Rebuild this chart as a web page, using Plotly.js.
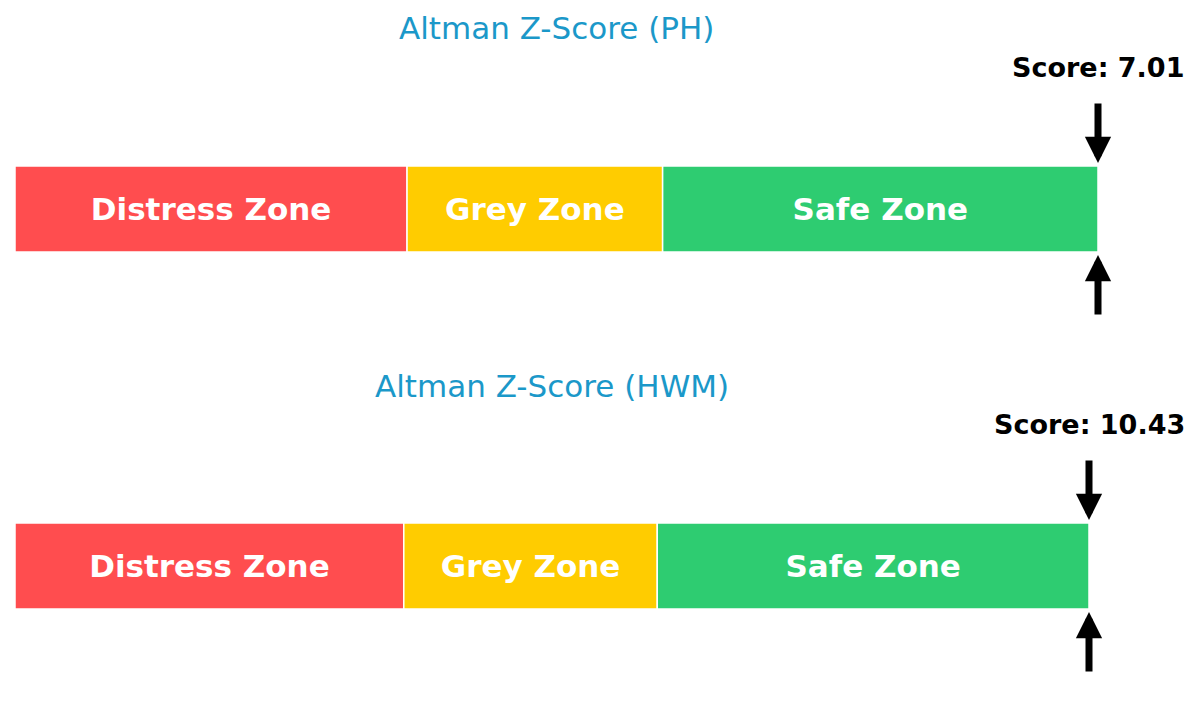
<!DOCTYPE html>
<html>
<head>
<meta charset="utf-8">
<script src="https://cdn.plot.ly/plotly-3.0.1.min.js"></script>
<style>
  html, body { margin: 0; padding: 0; background: #fff; }
  #chart { width: 1200px; height: 715px; }
</style>
</head>
<body>
<div id="chart"></div>
<script>
// zone boundaries (Altman Z-score), shared by both companies
const zoneNames = ['Distress Zone', 'Grey Zone', 'Safe Zone'];
const zoneStart = [0, 1.81, 2.99];
const zoneEnd = [1.81, 2.99, 5];
const zoneColors = ['#ff4d4f', '#ffcc00', '#2ecc71'];

const tickers = ['PH', 'HWM'];
const scores = [7.01, 10.43];

// panel placement (paper fractions)
const xDomains = [[0.0125, 0.915], [0.0125, 0.9075]];
const yDomains = [[0.5273, 0.8881], [0.02797, 0.3888]];
const titleY = [0.9608, 0.4601];

const FONT = 'DejaVu Sans, Verdana, sans-serif';
const xMax = zoneEnd[zoneEnd.length - 1];

const traces = [];
const annotations = [];
const layout = {
  width: 1200,
  height: 715,
  margin: { l: 0, r: 0, t: 0, b: 0 },
  paper_bgcolor: '#fff',
  plot_bgcolor: '#fff',
  barmode: 'overlay',
  showlegend: false,
  font: { family: FONT }
};

tickers.forEach((tk, i) => {
  const n = i === 0 ? '' : String(i + 1);
  const xa = 'x' + n, ya = 'y' + n;

  zoneNames.forEach((name, j) => {
    traces.push({
      type: 'bar',
      orientation: 'h',
      x: [zoneEnd[j] - zoneStart[j]],
      base: [zoneStart[j]],
      y: [0],
      width: 1,
      xaxis: xa,
      yaxis: ya,
      text: [name],
      textposition: 'inside',
      insidetextanchor: 'middle',
      constraintext: 'none',
      textfont: { family: FONT, size: 31, color: '#fff', weight: 'bold' },
      marker: { color: zoneColors[j], line: { color: '#fff', width: 1.5 } },
      hoverinfo: 'skip'
    });
  });

  layout['xaxis' + n] = {
    domain: xDomains[i], anchor: ya, range: [0, xMax],
    visible: false, fixedrange: true
  };
  layout['yaxis' + n] = {
    domain: yDomains[i], anchor: xa, range: [-1.5, 1.5],
    visible: false, fixedrange: true
  };

  const sx = Math.min(scores[i], xMax);

  // title
  annotations.push({
    xref: xa + ' domain', yref: 'paper', x: 0.5, y: titleY[i],
    text: 'Altman Z-Score (' + tk + ')', showarrow: false,
    xanchor: 'center', yanchor: 'middle',
    font: { family: FONT, size: 31, color: '#1b98c9' }
  });
  // score label, above the top arrow
  annotations.push({
    xref: xa, yref: ya + ' domain', x: sx, y: 1.05,
    text: 'Score: ' + scores[i].toFixed(2), showarrow: false,
    xanchor: 'center', yanchor: 'middle',
    font: { family: FONT, size: 27, color: '#000', weight: 'bold' }
  });
  // arrows above and below the bar
  [[0.535, 1.245], [-0.535, -1.245]].forEach(([tip, tail]) => {
    annotations.push({
      xref: xa, yref: ya, x: sx, y: tip,
      axref: xa, ayref: ya, ax: sx, ay: tail,
      text: '', showarrow: true,
      arrowhead: 2, arrowsize: 0.75, arrowwidth: 7, arrowcolor: '#000',
      standoff: 0, startstandoff: 0
    });
  });
});

layout.annotations = annotations;

Plotly.newPlot('chart', traces, layout, { displayModeBar: false, staticPlot: true });
</script>
</body>
</html>
